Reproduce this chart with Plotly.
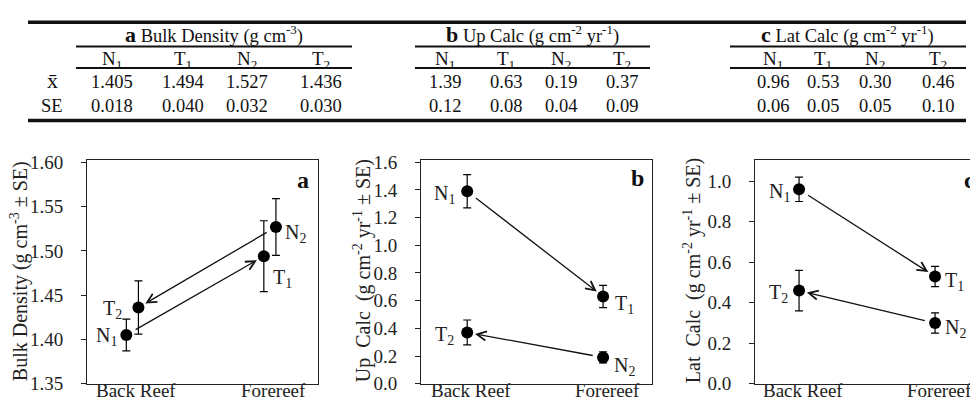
import plotly.graph_objects as go

W, H = 970, 409
FONT = "Liberation Serif, Times New Roman, serif"

# ---------------- data ----------------
site_names = ["Back Reef", "Forereef"]
group_letters = ["N", "T", "N", "T"]
group_subs = ["1", "1", "2", "2"]
group_site = ["Back Reef", "Forereef", "Forereef", "Back Reef"]

bulk_mean = [1.405, 1.494, 1.527, 1.436]
bulk_se = [0.018, 0.040, 0.032, 0.030]
up_mean = [1.39, 0.63, 0.19, 0.37]
up_se = [0.12, 0.08, 0.04, 0.09]
lat_mean = [0.96, 0.53, 0.30, 0.46]
lat_se = [0.06, 0.05, 0.05, 0.10]

panel_letters = ["a", "b", "c"]
table_titles = ["Bulk Density (g cm<sup>-3</sup>)",
                "Up Calc (g cm<sup>-2</sup> yr<sup>-1</sup>)",
                "Lat Calc (g cm<sup>-2</sup> yr<sup>-1</sup>)"]
axis_titles = ["Bulk Density (g cm<sup>-3</sup> \u00b1 SE)",
               "Up\u00a0 Calc\u00a0 (g cm<sup>-2</sup> yr<sup>-1</sup> \u00b1 SE)",
               "Lat\u00a0 Calc\u00a0 (g cm<sup>-2</sup> yr<sup>-1</sup> \u00b1 SE)"]
row_labels = ["x\u0304", "SE"]
arrow_pairs = [(0, 1), (2, 3)]  # N1 -> T1, N2 -> T2

means = [bulk_mean, up_mean, lat_mean]
ses = [bulk_se, up_se, lat_se]
fmts = ["{:.3f}", "{:.2f}", "{:.2f}"]

# ---------------- style / layout ----------------
def px(x):
    return x / W

def py(y):
    return 1 - y / H

TOP, BOT = 159.5, 394
panels = [
    dict(xd=(87, 318), xr=[-0.33, 1.35], yr=[1.35, 1.6025], dt=0.05, fmt=".2f",
         off=[-0.044, -0.044, 0.044, 0.044], mirror_y=True,
         lab=[("right", -7, -2), ("left", 7, -22), ("left", 7, -7), ("right", -14, -2)],
         title_xy=(19, 276), letter=(311, 180, "right")),
    dict(xd=(421, 652), xr=[-0.34, 1.36], yr=[0, 1.615], dt=0.2, fmt=".1f",
         off=[0, 0, 0, 0], mirror_y=True,
         lab=[("right", -10, -3), ("left", 10, -8), ("left", 9, -9), ("right", -11, -3)],
         title_xy=(362, 276), letter=(646, 178, "right")),
    dict(xd=(755, 970), xr=[-0.324, 1.257], yr=[0, 1.1046], dt=0.2, fmt=".1f",
         off=[0, 0, 0, 0], mirror_y=False,
         lab=[("right", -7, -3), ("left", 8, -5), ("left", 8, -6), ("right", -9, -3)],
         title_xy=(692, 276), letter=(962, 180, "left")),
]

table_cols = [[111.5, 182.5, 247.5, 320.5], [445, 505.5, 560.5, 622], [772.5, 823, 875, 937.5]]
table_head_x = [214, 532, 847]
group_lines = [(76, 352), (415, 650), (730, 966)]

fig = go.Figure()
annotations = []
shapes = []
layout_axes = {}

for p, cfg in enumerate(panels):
    sfx = "" if p == 0 else str(p + 1)
    xref, yref = "x" + sfx, "y" + sfx
    xs = [site_names.index(s) + o for s, o in zip(group_site, cfg["off"])]
    ys = means[p]
    fig.add_trace(go.Scatter(
        x=xs, y=ys, mode="markers", xaxis=xref, yaxis=yref,
        marker=dict(size=12, color="black"),
        error_y=dict(type="data", array=ses[p], visible=True, color="black", thickness=1.2, width=4),
        showlegend=False, hoverinfo="skip"))
    layout_axes["xaxis" + sfx] = dict(
        domain=[px(cfg["xd"][0]), px(cfg["xd"][1])], range=cfg["xr"], anchor=yref,
        tickvals=[0, 1], showticklabels=False, ticks="", showgrid=False, zeroline=False,
        showline=True, mirror=True, linecolor="#222", linewidth=1)
    layout_axes["yaxis" + sfx] = dict(
        domain=[py(BOT), py(TOP)], range=cfg["yr"], anchor=xref,
        tick0=cfg["yr"][0], dtick=cfg["dt"], tickformat=cfg["fmt"], ticks="outside", ticklen=5,
        tickcolor="#222", showgrid=False, zeroline=False, showline=True, mirror=cfg["mirror_y"],
        linecolor="#222", linewidth=1, ticklabelstandoff=14,
        tickfont=dict(family=FONT, size=19, color="#222"))
    # x category labels
    for k, name in enumerate(site_names):
        annotations.append(dict(
            x=k, y=py(401.5), xref=xref, yref="paper", showarrow=False, text=name,
            xanchor="center", yanchor="middle", xshift=4,
            font=dict(family=FONT, size=19, color="#222")))
    # point labels
    for g in range(4):
        xa, xsft, ysft = cfg["lab"][g]
        annotations.append(dict(
            x=xs[g], y=ys[g], xref=xref, yref=yref, showarrow=False,
            text=f"{group_letters[g]}<sub>{group_subs[g]}</sub>", xanchor=xa, yanchor="middle",
            xshift=xsft, yshift=ysft, font=dict(family=FONT, size=20, color="#222")))
    # arrows
    for i, j in arrow_pairs:
        annotations.append(dict(
            x=xs[j], y=ys[j], ax=xs[i], ay=ys[i], xref=xref, yref=yref, axref=xref, ayref=yref,
            showarrow=True, arrowhead=5, arrowsize=1.4, arrowwidth=1.3, arrowcolor="#111",
            standoff=8, startstandoff=9, text=""))
    # axis title
    tx, ty = cfg["title_xy"]
    annotations.append(dict(
        x=px(tx), y=py(ty), xref="paper", yref="paper", showarrow=False, textangle=-90,
        text=axis_titles[p], xanchor="center", yanchor="middle",
        font=dict(family=FONT, size=20, color="#222")))
    # panel letter
    lx, ly, la = cfg["letter"]
    annotations.append(dict(
        x=px(lx), y=py(ly), xref="paper", yref="paper", showarrow=False,
        text=f"<b>{panel_letters[p]}</b>", xanchor=la, yanchor="middle",
        font=dict(family=FONT, size=24, color="#111")))

    # ---------------- table ----------------
    annotations.append(dict(
        x=px(table_head_x[p]), y=py(28), xref="paper", yref="paper", showarrow=False,
        text=f"<b><span style='font-size:22px'>{panel_letters[p]}</span></b> {table_titles[p]}",
        xanchor="center", yanchor="middle", font=dict(family=FONT, size=18.5, color="#111")))
    for g in range(4):
        cx = table_cols[p][g]
        annotations.append(dict(
            x=px(cx), y=py(55), xref="paper", yref="paper", showarrow=False,
            text=f"{group_letters[g]}<sub>{group_subs[g]}</sub>", xanchor="center", yanchor="middle",
            font=dict(family=FONT, size=19, color="#111")))
        annotations.append(dict(
            x=px(cx), y=py(77.5), xref="paper", yref="paper", showarrow=False,
            text=fmts[p].format(means[p][g]), xanchor="center", yanchor="middle",
            font=dict(family=FONT, size=18.5, color="#111")))
        annotations.append(dict(
            x=px(cx), y=py(102.5), xref="paper", yref="paper", showarrow=False,
            text=fmts[p].format(ses[p][g]), xanchor="center", yanchor="middle",
            font=dict(family=FONT, size=18.5, color="#111")))
    gx0, gx1 = group_lines[p]
    for ly_ in (40.5, 63):
        shapes.append(dict(type="line", xref="paper", yref="paper", x0=px(gx0), x1=px(gx1),
                           y0=py(ly_), y1=py(ly_), line=dict(color="#111", width=2)))

for lab, yy, sz in zip(row_labels, (76.5, 102.5), (22, 18.5)):
    annotations.append(dict(
        x=px(52), y=py(yy), xref="paper", yref="paper", showarrow=False, text=lab,
        xanchor="center", yanchor="middle", font=dict(family=FONT, size=sz, color="#111")))

for ly_ in (15, 118):
    shapes.append(dict(type="line", xref="paper", yref="paper", x0=px(28), x1=px(966),
                       y0=py(ly_), y1=py(ly_), line=dict(color="#111", width=3.5)))

fig.update_layout(
    width=W, height=H, margin=dict(l=0, r=0, t=0, b=0),
    paper_bgcolor="white", plot_bgcolor="white",
    font=dict(family=FONT, color="#222"),
    annotations=annotations, shapes=shapes, **layout_axes)

pin_script = ("var d=document.getElementById('{plot_id}');"
              "d.style.position='fixed';d.style.left='0px';d.style.top='0px';"
              "document.body.style.margin='0';document.body.style.overflow='hidden';")
fig.write_html("out.html", config={"displayModeBar": False}, post_script=pin_script)
